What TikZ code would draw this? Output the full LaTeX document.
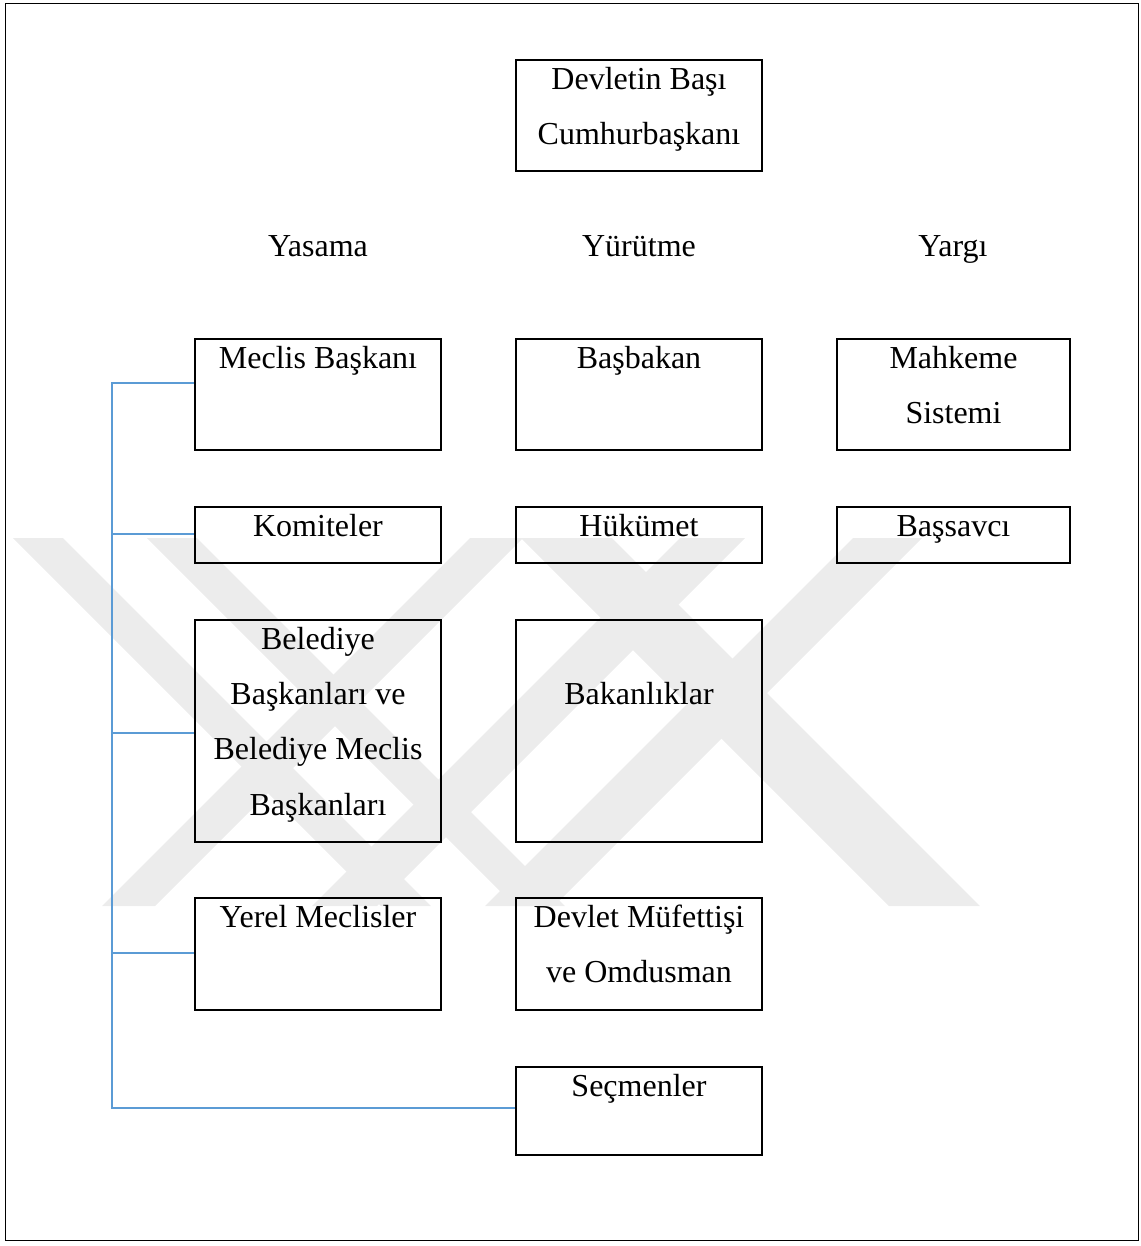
\documentclass[tikz,border=0pt]{standalone}
\usepackage{fontspec}
\setmainfont{Liberation Serif}
\usetikzlibrary{fit,calc}
\newcommand\mylines[1]{\vtop{\baselineskip=41.6pt\halign{\hfil##\hfil\cr#1\crcr}}}
\definecolor{linkblue}{HTML}{5B9BD5}
\definecolor{wmark}{HTML}{ECECEC}
\tikzset{
  box/.style={draw=black, line width=1.5pt, inner sep=0pt},
  lbl/.style={anchor=base, inner sep=0pt, font=\fontsize{24pt}{41.6pt}\selectfont},
  link/.style={draw=linkblue, line width=1.5pt},
  wm/.style={fill=wmark, draw=none}
}
\begin{document}
\begin{tikzpicture}[x=0.75pt,y=-0.75pt]
\useasboundingbox (0,0) rectangle (1140,1246);
% watermark
\begin{scope}
\clip (0,538) rectangle (1140,906);
\fill[wm] (13,538) -- (63,538) -- (431,906) -- (381,906) -- cycle;
\fill[wm] (147,538) -- (197,538) -- (565,906) -- (515,906) -- cycle;
\fill[wm] (470,538) -- (523,538) -- (155,906) -- (102,906) -- cycle;
\fill[wm] (853,538) -- (922,538) -- (554,906) -- (485,906) -- cycle;
\fill[wm] (521,538) -- (612,538) -- (980,906) -- (889,906) -- cycle;
\fill[wm] (680,538) -- (745,538) -- (377,906) -- (312,906) -- cycle;
\end{scope}
% frame
\draw[line width=1.1pt] (5.5,3.5) rectangle (1138.5,1240.5);
% boxes
\node[box, fit={(516,60) (762,171)}] (head) {};
\node[box, fit={(195,339) (441,450)}] (meclis) {};
\node[box, fit={(516,339) (762,450)}] (basbakan) {};
\node[box, fit={(837,339) (1070,450)}] (mahkeme) {};
\node[box, fit={(195,507) (441,563)}] (komite) {};
\node[box, fit={(516,507) (762,563)}] (hukumet) {};
\node[box, fit={(837,507) (1070,563)}] (bassavci) {};
\node[box, fit={(195,620) (441,842)}] (belediye) {};
\node[box, fit={(516,620) (762,842)}] (bakan) {};
\node[box, fit={(195,898) (441,1010)}] (yerel) {};
\node[box, fit={(516,898) (762,1010)}] (mufettis) {};
\node[box, fit={(516,1067) (762,1155)}] (secmen) {};
% texts
\node[lbl] (thead) at ($(head.north)+(0,30)$) {\mylines{Devletin Başı\cr Cumhurbaşkanı}};
\node[lbl] (tyas) at (318,256) {Yasama};
\node[lbl] (tyur) at (639,256) {Yürütme};
\node[lbl] (tyar) at (953,256) {Yargı};
\node[lbl] (tmeclis) at ($(meclis.north)+(0,30)$) {Meclis Başkanı};
\node[lbl] (tbasbakan) at ($(basbakan.north)+(0,30)$) {Başbakan};
\node[lbl] (tmahkeme) at ($(mahkeme.north)+(0,30)$) {\mylines{Mahkeme\cr Sistemi}};
\node[lbl] (tkomite) at ($(komite.north)+(0,30)$) {Komiteler};
\node[lbl] (thukumet) at ($(hukumet.north)+(0,30)$) {Hükümet};
\node[lbl] (tbassavci) at ($(bassavci.north)+(0,30)$) {Başsavcı};
\node[lbl] (tbelediye) at ($(belediye.north)+(0,30)$) {\mylines{Belediye\cr Başkanları ve\cr Belediye Meclis\cr Başkanları}};
\node[lbl] (tbakan) at ($(bakan.north)+(0,85.5)$) {Bakanlıklar};
\node[lbl] (tyerel) at ($(yerel.north)+(0,30)$) {Yerel Meclisler};
\node[lbl] (tmufettis) at ($(mufettis.north)+(0,30)$) {\mylines{Devlet Müfettişi\cr ve Omdusman}};
\node[lbl] (tsecmen) at ($(secmen.north)+(0,30)$) {Seçmenler};
% connectors
\coordinate (t1) at (111.5,382.5);
\coordinate (t2) at (111.5,533.5);
\coordinate (t3) at (111.5,732.5);
\coordinate (t4) at (111.5,952.5);
\coordinate (t5) at (111.5,1107.5);
\draw[link] (meclis.west |- t1) -- (t1) -- (t5) -- (secmen.west |- t5);
\draw[link] (t2) -- (komite.west |- t2);
\draw[link] (t3) -- (belediye.west |- t3);
\draw[link] (t4) -- (yerel.west |- t4);
\end{tikzpicture}
\end{document}
